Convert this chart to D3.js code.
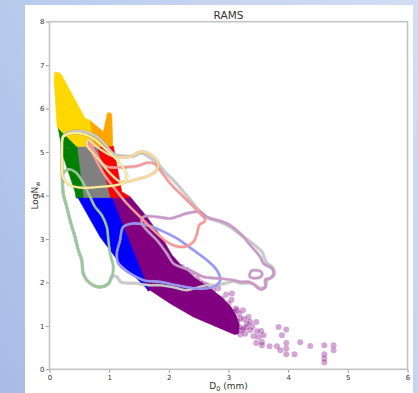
<!DOCTYPE html>
<html>
<head>
<meta charset="utf-8">
<script src="https://cdnjs.cloudflare.com/ajax/libs/d3/7.8.5/d3.min.js"></script>
<style>
  html, body { margin: 0; padding: 0; }
  body {
    width: 418px; height: 393px; overflow: hidden;
    background: linear-gradient(60deg, #a7bce6 0%, #bccdee 45%, #d3def4 100%);
    font-family: "DejaVu Sans", sans-serif;
  }
  svg { display: block; }
</style>
</head>
<body>
<svg id="chart" width="418" height="393"></svg>
<script>
// axis ticks
const xTicks = [0, 1, 2, 3, 4, 5, 6];
const yTicks = [0, 1, 2, 3, 4, 5, 6, 7, 8];

// filled regions, [D0 (mm), LogNw]
const yellowRegion = [[0.076, 6.705], [0.092, 6.843], [0.143, 6.832], [0.193, 6.797], [0.596, 5.776], [0.668, 5.737],
  [0.735, 5.138], [0.461, 5.127], [0.176, 5.507], [0.126, 5.599]];
const orangeRegion = [[0.668, 5.737], [0.903, 5.468], [0.970, 5.892], [1.007, 5.910], [1.044, 5.876], [1.060, 5.138], [0.735, 5.138]];
const greenRegion = [[0.176, 5.507], [0.461, 5.127], [0.567, 3.952], [0.445, 3.952], [0.428, 4.085], [0.232, 4.892], [0.143, 5.576]];
const grayRegion = [[0.461, 5.127], [0.792, 5.115], [1.015, 3.952], [0.567, 3.952]];
const redRegion = [[0.792, 5.115], [1.070, 5.138], [1.154, 4.509], [1.211, 4.085], [1.351, 3.970], [1.351, 3.952], [1.015, 3.952]];
const blueRegion = [[0.445, 3.952], [1.044, 3.952], [1.669, 1.809], [1.490, 2.051], [1.183, 2.435], [0.847, 3.048], [0.483, 3.934]];
const purpleRegion = [[1.015, 3.952], [1.351, 3.970], [1.631, 3.509], [1.909, 2.972], [2.055, 2.627], [2.223, 2.373], [2.441, 2.097],
  [2.693, 1.866], [2.900, 1.640], [3.040, 1.440], [3.130, 1.230], [3.180, 1.020], [3.170, 0.820], [3.100, 0.800],
  [2.805, 0.975], [2.413, 1.205], [2.022, 1.514], [1.686, 1.820], [1.650, 1.800]];

// scattered drops outside the dense area
const purpleDots = [[2.961, 1.721], [3.057, 1.744], [2.889, 1.629], [3.0, 1.514], [3.141, 1.359], [3.242, 1.359], [3.084, 1.320],
  [3.336, 1.205], [3.196, 1.168], [3.309, 1.053], [3.465, 1.090], [3.112, 1.053], [3.252, 0.938], [3.364, 0.899], [3.477, 0.876],
  [3.549, 0.882], [3.587, 0.783], [3.839, 0.975], [3.968, 0.915], [3.896, 0.783], [3.503, 0.744], [3.419, 0.760], [3.560, 0.629],
  [3.465, 0.606], [3.560, 0.553], [3.688, 0.530], [3.812, 0.530], [3.968, 0.606], [3.867, 0.438], [3.968, 0.477], [3.968, 0.346],
  [4.107, 0.346], [4.203, 0.622], [4.371, 0.537], [4.606, 0.553], [4.762, 0.553], [4.762, 0.438], [4.606, 0.346], [4.606, 0.247],
  [4.606, 0.154], [3.364, 1.090], [3.185, 0.975], [2.077, 2.435], [2.218, 2.357], [2.386, 2.205], [2.525, 2.012], [2.134, 2.242],
  [2.638, 1.935], [2.743, 1.820], [2.827, 1.866], [2.30, 2.29], [2.47, 2.10], [2.58, 1.97], [3.15, 1.10], [3.22, 0.90],
  [3.26, 1.16], [3.12, 1.40], [3.20, 0.80], [3.30, 0.97], [3.05, 1.60], [3.28, 0.82], [3.40, 0.98], [3.18, 1.28]];

// contour lines
const grayContour = [[0.227, 5.369], [0.344, 5.461], [0.512, 5.484], [0.713, 5.415], [0.864, 5.276], [0.982, 5.092], [1.082, 4.954],
  [1.250, 4.908], [1.418, 4.908], [1.535, 4.977], [1.669, 4.885], [1.820, 4.724], [1.955, 4.516], [2.122, 4.286], [2.307, 3.986],
  [2.475, 3.710], [2.626, 3.502], [2.861, 3.387], [3.029, 3.272], [3.213, 3.088], [3.398, 2.903], [3.565, 2.696], [3.633, 2.465],
  [3.750, 2.327], [3.767, 2.166], [3.649, 2.051], [3.616, 1.889], [3.482, 1.889], [3.398, 1.982], [3.196, 1.982], [3.079, 2.028],
  [2.961, 1.982], [2.777, 1.935], [2.643, 1.935], [2.441, 1.866], [2.290, 1.820], [2.072, 1.889], [1.852, 1.935], [1.686, 1.935],
  [1.418, 1.982], [1.200, 2.005], [1.116, 2.143], [1.032, 2.120], [0.998, 1.982], [0.847, 1.889], [0.730, 1.935], [0.629, 2.051],
  [0.562, 2.212], [0.540, 2.512], [0.483, 2.742], [0.428, 3.041], [0.344, 3.433], [0.289, 3.733], [0.227, 4.055], [0.210, 4.470],
  [0.210, 4.931]];
const greenContour = [[0.232, 4.509], [0.315, 4.601], [0.428, 4.546], [0.540, 4.355], [0.624, 4.124], [0.680, 3.970], [0.763, 3.740],
  [0.876, 3.548], [0.960, 3.279], [0.987, 2.972], [1.015, 2.666], [1.070, 2.358], [1.044, 2.127], [0.987, 1.975], [0.847, 1.897],
  [0.735, 1.935], [0.624, 2.051], [0.567, 2.205], [0.540, 2.512], [0.483, 2.742], [0.428, 3.048], [0.344, 3.433], [0.289, 3.740],
  [0.232, 4.048], [0.221, 4.355]];
const blueContour = [[1.238, 3.279], [1.406, 3.357], [1.631, 3.318], [1.854, 3.203], [2.134, 3.012], [2.413, 2.742], [2.638, 2.512],
  [2.805, 2.281], [2.861, 2.051], [2.748, 1.896], [2.470, 1.859], [2.134, 1.935], [1.854, 2.012], [1.574, 2.051], [1.351, 2.205],
  [1.154, 2.435], [1.128, 2.666], [1.183, 2.972], [1.211, 3.203]];
const purpleContour = [[1.574, 3.509], [1.799, 3.509], [2.022, 3.472], [2.302, 3.588], [2.525, 3.624], [2.638, 3.509], [2.973, 3.357],
  [3.196, 3.127], [3.364, 2.857], [3.532, 2.588], [3.587, 2.435], [3.728, 2.320], [3.755, 2.205], [3.700, 2.090], [3.616, 2.067],
  [3.616, 1.896], [3.532, 1.836], [3.448, 1.935], [3.336, 2.012], [3.196, 2.012], [3.084, 2.051], [2.861, 2.090], [2.581, 2.127],
  [2.357, 2.281], [2.190, 2.357], [2.077, 2.435], [1.966, 2.666], [1.799, 2.972], [1.631, 3.203], [1.547, 3.357]];
const purpleContourSmall = [[3.356, 2.189], [3.389, 2.270], [3.448, 2.281], [3.532, 2.258], [3.565, 2.189], [3.532, 2.120],
  [3.448, 2.097], [3.364, 2.120]];
const redContour = [[0.651, 5.253], [0.696, 5.046], [0.780, 4.816], [0.903, 4.509], [1.070, 4.200], [1.295, 3.818], [1.518, 3.509],
  [1.742, 3.203], [1.966, 2.933], [2.122, 2.834], [2.273, 2.823], [2.413, 2.933], [2.475, 3.134], [2.508, 3.318], [2.609, 3.422],
  [2.470, 3.664], [2.245, 3.970], [2.022, 4.279], [1.854, 4.585], [1.770, 4.724], [1.653, 4.758], [1.463, 4.677], [1.183, 4.647],
  [0.982, 4.654], [0.898, 4.724], [0.763, 5.0]];
const orangeContour = [[0.651, 5.277], [0.792, 5.122], [1.015, 4.931], [1.128, 4.892], [1.351, 4.892], [1.518, 5.007], [1.631, 4.984],
  [1.742, 4.892], [1.826, 4.740], [1.799, 4.585], [1.686, 4.470], [1.518, 4.394], [1.295, 4.316], [1.183, 4.316], [1.015, 4.509],
  [0.876, 4.740], [0.735, 4.970], [0.624, 5.161]];
const yellowContour = [[0.232, 5.353], [0.344, 5.426], [0.512, 5.431], [0.735, 5.316], [0.960, 5.046], [1.183, 4.740], [1.295, 4.470],
  [1.267, 4.316], [1.128, 4.240], [0.847, 4.200], [0.567, 4.177], [0.344, 4.240], [0.232, 4.394], [0.210, 4.661], [0.210, 5.046]];

const svg = d3.select("#chart");

// white figure panel
svg.append("rect")
    .attr("x", 25).attr("y", 5)
    .attr("width", 388).attr("height", 388)
    .attr("fill", "#fff");

const x = d3.scaleLinear().domain([0, 6]).range([49.5, 407.5]);
const y = d3.scaleLinear().domain([0, 8]).range([369.3, 21.7]);

svg.append("clipPath").attr("id", "plot-clip")
    .append("rect")
    .attr("x", x(0)).attr("y", y(8))
    .attr("width", x(6) - x(0)).attr("height", y(0) - y(8));

const plot = svg.append("g").attr("clip-path", "url(#plot-clip)");

const polygon = d3.line().x(d => x(d[0])).y(d => y(d[1])).curve(d3.curveLinearClosed);
const smooth = d3.line().x(d => x(d[0])).y(d => y(d[1])).curve(d3.curveCatmullRomClosed.alpha(0.5));

// regions, back to front
const regions = [
    { pts: purpleRegion, color: "purple" },
    { pts: blueRegion, color: "blue" },
    { pts: redRegion, color: "red" },
    { pts: grayRegion, color: "gray" },
    { pts: greenRegion, color: "green" },
    { pts: orangeRegion, color: "orange" },
    { pts: yellowRegion, color: "gold" }
];

regions.forEach(r => {
    plot.append("path")
        .attr("d", polygon(r.pts))
        .attr("fill", r.color)
        .attr("stroke", r.color)
        .attr("stroke-width", 0.6)
        .attr("stroke-linejoin", "round");
});

plot.append("g")
    .selectAll("circle")
    .data(purpleDots)
    .join("circle")
    .attr("cx", d => x(d[0]))
    .attr("cy", d => y(d[1]))
    .attr("r", 3)
    .attr("fill", "purple")
    .attr("fill-opacity", 0.35);

// contours: gray edge, white core, light colour on top
const contours = [
    { pts: grayContour, color: "gray" },
    { pts: greenContour, color: "green" },
    { pts: blueContour, color: "blue" },
    { pts: purpleContour, color: "purple" },
    { pts: purpleContourSmall, color: "purple" },
    { pts: redContour, color: "red" },
    { pts: orangeContour, color: "orange" },
    { pts: yellowContour, color: "gold" }
];

contours.forEach(c => {
    const d = smooth(c.pts);
    plot.append("path").attr("d", d).attr("fill", "none")
        .attr("stroke", "#8c8c8c").attr("stroke-opacity", 0.45).attr("stroke-width", 3.2);
    plot.append("path").attr("d", d).attr("fill", "none")
        .attr("stroke", "#fff").attr("stroke-width", 2.1);
    plot.append("path").attr("d", d).attr("fill", "none")
        .attr("stroke", c.color).attr("stroke-opacity", 0.42).attr("stroke-width", 2.1);
});

// axes
const xAxis = svg.append("g")
    .attr("transform", `translate(0,${y(0)})`)
    .call(d3.axisBottom(x).tickValues(xTicks).tickFormat(d3.format("d")).tickSize(3.5).tickPadding(2.5));
const yAxis = svg.append("g")
    .attr("transform", `translate(${x(0)},0)`)
    .call(d3.axisLeft(y).tickValues(yTicks).tickFormat(d3.format("d")).tickSize(3.5).tickPadding(1.5));

[xAxis, yAxis].forEach(a => {
    a.select(".domain").remove();
    a.selectAll("line").attr("stroke", "#999");
    a.selectAll("text").attr("fill", "#333").style("font-size", "7px").style("font-family", "DejaVu Sans");
});

svg.append("rect")
    .attr("x", x(0)).attr("y", y(8))
    .attr("width", x(6) - x(0)).attr("height", y(0) - y(8))
    .attr("fill", "none")
    .attr("stroke", "#c4c4c4")
    .attr("stroke-width", 1.6);

// title and labels
svg.append("text")
    .attr("x", (x(0) + x(6)) / 2).attr("y", 19)
    .attr("text-anchor", "middle")
    .attr("fill", "#333")
    .style("font-size", "10.5px")
    .text("RAMS");

const xLabel = svg.append("text")
    .attr("x", (x(0) + x(6)) / 2).attr("y", 389)
    .attr("text-anchor", "middle")
    .attr("fill", "#333")
    .style("font-size", "9px");
xLabel.append("tspan").text("D");
xLabel.append("tspan").attr("dy", 2).style("font-size", "6.5px").text("0");
xLabel.append("tspan").attr("dy", -2).text(" (mm)");

const yLabel = svg.append("text")
    .attr("transform", `translate(38,${(y(0) + y(8)) / 2}) rotate(-90)`)
    .attr("text-anchor", "middle")
    .attr("fill", "#333")
    .style("font-size", "9px");
yLabel.append("tspan").text("LogN");
yLabel.append("tspan").attr("dy", 2).style("font-size", "6.5px").text("w");
</script>
</body>
</html>
